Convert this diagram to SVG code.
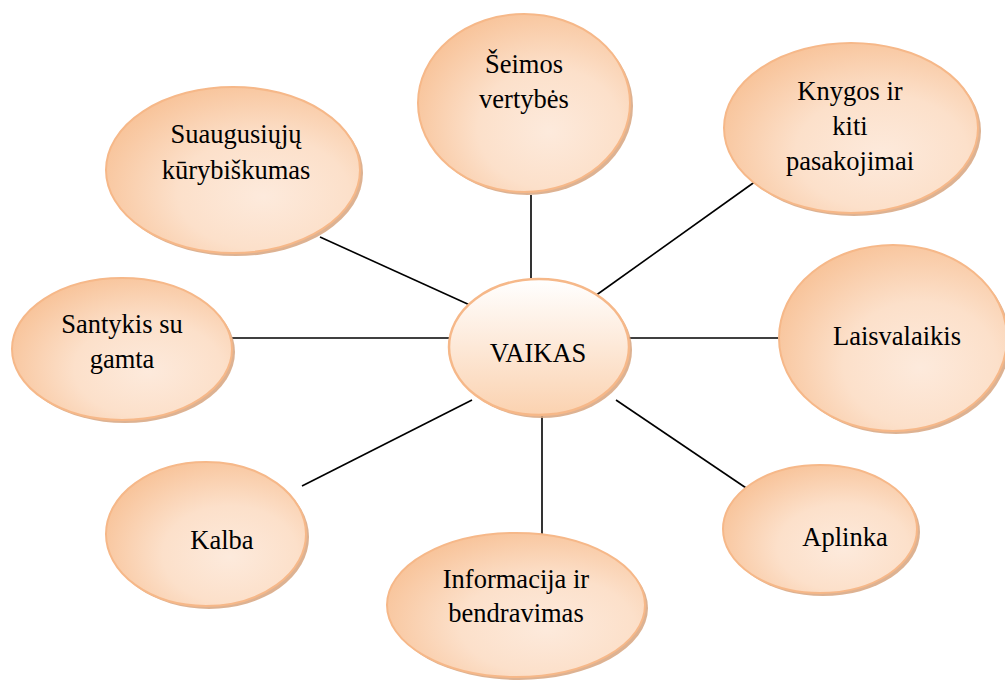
<svg xmlns="http://www.w3.org/2000/svg" width="1005" height="681" viewBox="0 0 1005 681">
<defs>
<radialGradient id="rg" cx="0.62" cy="0.62" r="0.75" fx="0.62" fy="0.66">
<stop offset="0" stop-color="#fdeadc"/>
<stop offset="0.45" stop-color="#fce0ca"/>
<stop offset="1" stop-color="#f7bd8f"/>
</radialGradient>
<linearGradient id="lg" x1="0" y1="0" x2="0" y2="1">
<stop offset="0" stop-color="#ffffff"/>
<stop offset="1" stop-color="#fbd2b0"/>
</linearGradient>
<style>
.sh{fill:#d7a47f;opacity:0.85}
.nd{fill:url(#rg);stroke:#f6b889;stroke-width:2}
.ct{fill:url(#lg);stroke:#f6b889;stroke-width:2.5}
.ln{stroke:#000;stroke-width:1.6;fill:none}
</style>
</defs>
<rect width="1005" height="681" fill="#fff"/>
<g id="connectors">
<line class="ln" x1="531" y1="195" x2="531" y2="279"/>
<line class="ln" x1="320" y1="237" x2="472" y2="306"/>
<line class="ln" x1="756" y1="181" x2="595" y2="296"/>
<line class="ln" x1="232" y1="338" x2="450" y2="338"/>
<line class="ln" x1="625" y1="338" x2="781" y2="338"/>
<line class="ln" x1="302" y1="486" x2="472" y2="400"/>
<line class="ln" x1="616" y1="400" x2="755" y2="494"/>
<line class="ln" x1="542" y1="400" x2="542" y2="534"/>
</g>
<g font-family="Liberation Serif" font-size="26.5" text-anchor="middle" fill="#000">
<g id="n-seimos">
<ellipse class="sh" cx="527" cy="106" rx="106" ry="89"/>
<ellipse class="nd" cx="524" cy="103" rx="106" ry="89"/>
<text font-family="Liberation Serif" x="524" y="73">Šeimos</text>
<text font-family="Liberation Serif" x="524" y="108">vertybės</text>
</g>
<g id="n-suaugusiuju">
<ellipse class="sh" cx="236" cy="173" rx="127" ry="83"/>
<ellipse class="nd" cx="233" cy="170" rx="127" ry="83"/>
<text font-family="Liberation Serif" x="236" y="143">Suaugusiųjų</text>
<text font-family="Liberation Serif" x="236" y="179">kūrybiškumas</text>
</g>
<g id="n-knygos">
<ellipse class="sh" cx="854" cy="131" rx="127" ry="85"/>
<ellipse class="nd" cx="851" cy="128" rx="127" ry="85"/>
<text font-family="Liberation Serif" x="850" y="100">Knygos ir</text>
<text font-family="Liberation Serif" x="850" y="135">kiti</text>
<text font-family="Liberation Serif" x="850" y="170">pasakojimai</text>
</g>
<g id="n-santykis">
<ellipse class="sh" cx="125" cy="352" rx="110" ry="71"/>
<ellipse class="nd" cx="122" cy="349" rx="110" ry="71"/>
<text font-family="Liberation Serif" x="122" y="333">Santykis su</text>
<text font-family="Liberation Serif" x="122" y="368">gamta</text>
</g>
<g id="n-laisvalaikis">
<ellipse class="sh" cx="896" cy="341" rx="114" ry="93"/>
<ellipse class="nd" cx="893" cy="338" rx="114" ry="93"/>
<text font-family="Liberation Serif" x="897" y="345">Laisvalaikis</text>
</g>
<g id="n-kalba">
<ellipse class="sh" cx="209" cy="537" rx="100" ry="72"/>
<ellipse class="nd" cx="206" cy="534" rx="100" ry="72"/>
<text font-family="Liberation Serif" x="222" y="549">Kalba</text>
</g>
<g id="n-aplinka">
<ellipse class="sh" cx="823" cy="532" rx="97" ry="64"/>
<ellipse class="nd" cx="820" cy="529" rx="97" ry="64"/>
<text font-family="Liberation Serif" x="845" y="546">Aplinka</text>
</g>
<g id="n-informacija">
<ellipse class="sh" cx="519" cy="608" rx="129" ry="72"/>
<ellipse class="nd" cx="516" cy="605" rx="129" ry="72"/>
<text font-family="Liberation Serif" x="516" y="588">Informacija ir</text>
<text font-family="Liberation Serif" x="516" y="622">bendravimas</text>
</g>
<g id="n-vaikas">
<ellipse class="sh" cx="542" cy="350" rx="90" ry="68"/>
<ellipse class="ct" cx="539" cy="347" rx="90" ry="68"/>
<text font-family="Liberation Serif" x="538" y="362">VAIKAS</text>
</g>
</g>
</svg>
